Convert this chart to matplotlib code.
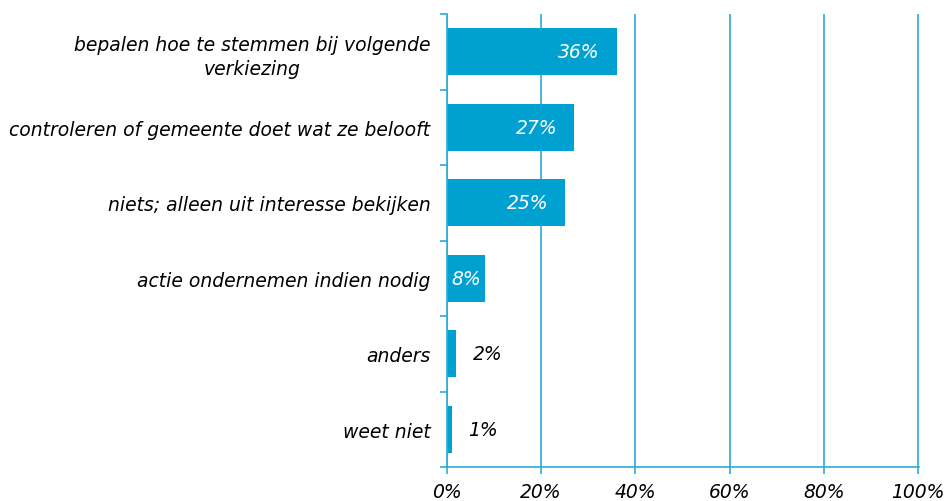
import matplotlib
matplotlib.use('Agg')
import matplotlib.pyplot as plt
import numpy as np

categories = ['bepalen hoe te stemmen bij volgende\nverkiezing',
              'controleren of gemeente doet wat ze belooft',
              'niets; alleen uit interesse bekijken',
              'actie ondernemen indien nodig',
              'anders',
              'weet niet']
values = [36, 27, 25, 8, 2, 1]
ticks = [0, 20, 40, 60, 80, 100]

bar_color = '#00A1D1'
line_color = '#29ACDB'
fs = 13.5

fig = plt.figure(figsize=(9.5, 5.02), dpi=100)
ax = fig.add_axes([447/950, 1 - 468/502, 472/950, 453/502])

n = len(categories)
y = np.arange(n)
ax.barh(y, values, height=0.62, color=bar_color, zorder=3)
ax.set_ylim(n - 0.5, -0.5)
ax.set_xlim(0, 100.2)

# gridlines
ax.set_xticks(ticks)
ax.set_xticklabels([f'{t}%' for t in ticks], fontsize=fs, style='italic')
ax.xaxis.grid(True, color=line_color, linewidth=1.2, zorder=0)
ax.tick_params(axis='x', length=5, width=1.2, color=line_color, pad=6)

# category labels between boundary ticks
ax.set_yticks(np.arange(n + 1) - 0.5)
ax.set_yticklabels([])
ax.set_yticks(y, minor=True)
ax.set_yticklabels(categories, minor=True, fontsize=fs, style='italic',
                   linespacing=1.35)
ax.tick_params(axis='y', which='major', length=5, width=1.2, color=line_color)
ax.tick_params(axis='y', which='minor', length=0, pad=12)
for lab in ax.get_yticklabels(minor=True):
    lab.set_multialignment('center')

for s in ['top', 'right']:
    ax.spines[s].set_visible(False)
for s in ['left', 'bottom']:
    ax.spines[s].set_color(line_color)
    ax.spines[s].set_linewidth(1.2)
    ax.spines[s].set_zorder(4)

for yi, v in zip(y, values):
    if v >= 20:
        ax.annotate(f'{v}%', (v, yi), xytext=(-12, 0), textcoords='offset points',
                    ha='right', va='center', color='white', fontsize=fs,
                    style='italic', zorder=5)
    elif v >= 5:
        ax.annotate(f'{v}%', (v / 2, yi), ha='center', va='center', color='white',
                    fontsize=fs, style='italic', zorder=5)
    else:
        ax.annotate(f'{v}%', (v, yi), xytext=(12, 0), textcoords='offset points',
                    ha='left', va='center', color='black', fontsize=fs,
                    style='italic', zorder=5)

fig.savefig('out.png', dpi=100)
